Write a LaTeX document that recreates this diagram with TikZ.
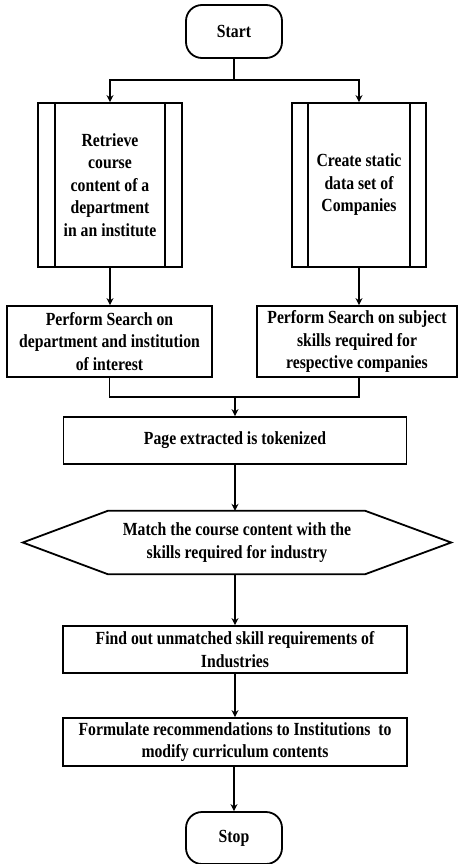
\documentclass[tikz,border=0pt]{standalone}
\usepackage{fontspec}
\setmainfont{Liberation Serif}[FakeStretch=0.85]
\usetikzlibrary{arrows.meta,calc}
\begin{document}
\begin{tikzpicture}[x=1pt,y=-1pt,
  every node/.style={font=\bfseries\fontsize{18.5}{22.5}\selectfont, align=center, inner sep=0pt},
  line/.style={line width=1.8pt, draw=black},
  box/.style={line, rectangle, minimum width=#1},
  terminal/.style={line, rectangle, rounded corners=16pt, minimum width=96, minimum height=53},
  arr/.style={line, -{Stealth[length=7pt,width=7pt]}}
]
\useasboundingbox (0,0) rectangle (459,864);

% terminals
\node[terminal] (start) at (234,31.5) {Start};
\node[terminal, minimum height=52] (stop) at (234,838) {Stop};

% predefined-process boxes
\node[box=144, minimum height=164] (ret) at (110,185)
  {Retrieve\\course\\content of a\\department\\in an institute};
\node[box=134, minimum height=164] (cre) at (359,185)
  {Create static\\data set of\\Companies};
\draw[line] ([xshift=18]ret.north west) -- ([xshift=18]ret.south west);
\draw[line] ([xshift=-18]ret.north east) -- ([xshift=-18]ret.south east);
\draw[line] ([xshift=17]cre.north west) -- ([xshift=17]cre.south west);
\draw[line] ([xshift=-17]cre.north east) -- ([xshift=-17]cre.south east);

% search boxes
\node[box=205, minimum height=71] (psl) at (109.5,341.5)
  {Perform Search on\\department and institution\\of interest};
\node[box=200, minimum height=71] (psr) at (357,341.5)
  {Perform Search on subject\\skills required for\\respective companies};

\node[box=343, minimum height=47] (page) at (235,440.5) {Page extracted is tokenized};

% hexagonal matching step
\node[minimum width=428, minimum height=63] (match) at (237,542.5)
  {Match the course content with the\\skills required for industry};
\draw[line] (match.west) -- ($(match.north west)+(85,0)$) -- ($(match.north east)+(-86,0)$)
  -- (match.east) -- ($(match.south east)+(-86,0)$) -- ($(match.south west)+(85,0)$) -- cycle;

\node[box=344, minimum height=47] (find) at (235,649.5)
  {Find out unmatched skill requirements of\\Industries};
\node[box=344, minimum height=48] (form) at (235,742)
  {Formulate recommendations to Institutions\ \ to\\modify curriculum contents};

% connectors
\coordinate (split) at (234,80);
\coordinate (join) at (235,397);
\draw[line] (start.south) -- (split);
\draw[arr] (split) -| (ret.north);
\draw[arr] (split) -| (cre.north);
\draw[arr] (ret.south) -- (ret.south |- psl.north);
\draw[arr] (cre.south) -- (cre.south |- psr.north);
\draw[line] (psl.south) |- (join);
\draw[line] (psr.south -| cre.south) |- (join);
\draw[arr] (join) -- (page.north);
\draw[arr] (page.south) -- (page.south |- match.north);
\draw[arr] (match.south -| find.north) -- (find.north);
\draw[arr] (find.south) -- (form.north);
\draw[arr] (form.south) -- (form.south -| stop.north) -- (stop.north);
\end{tikzpicture}
\end{document}
